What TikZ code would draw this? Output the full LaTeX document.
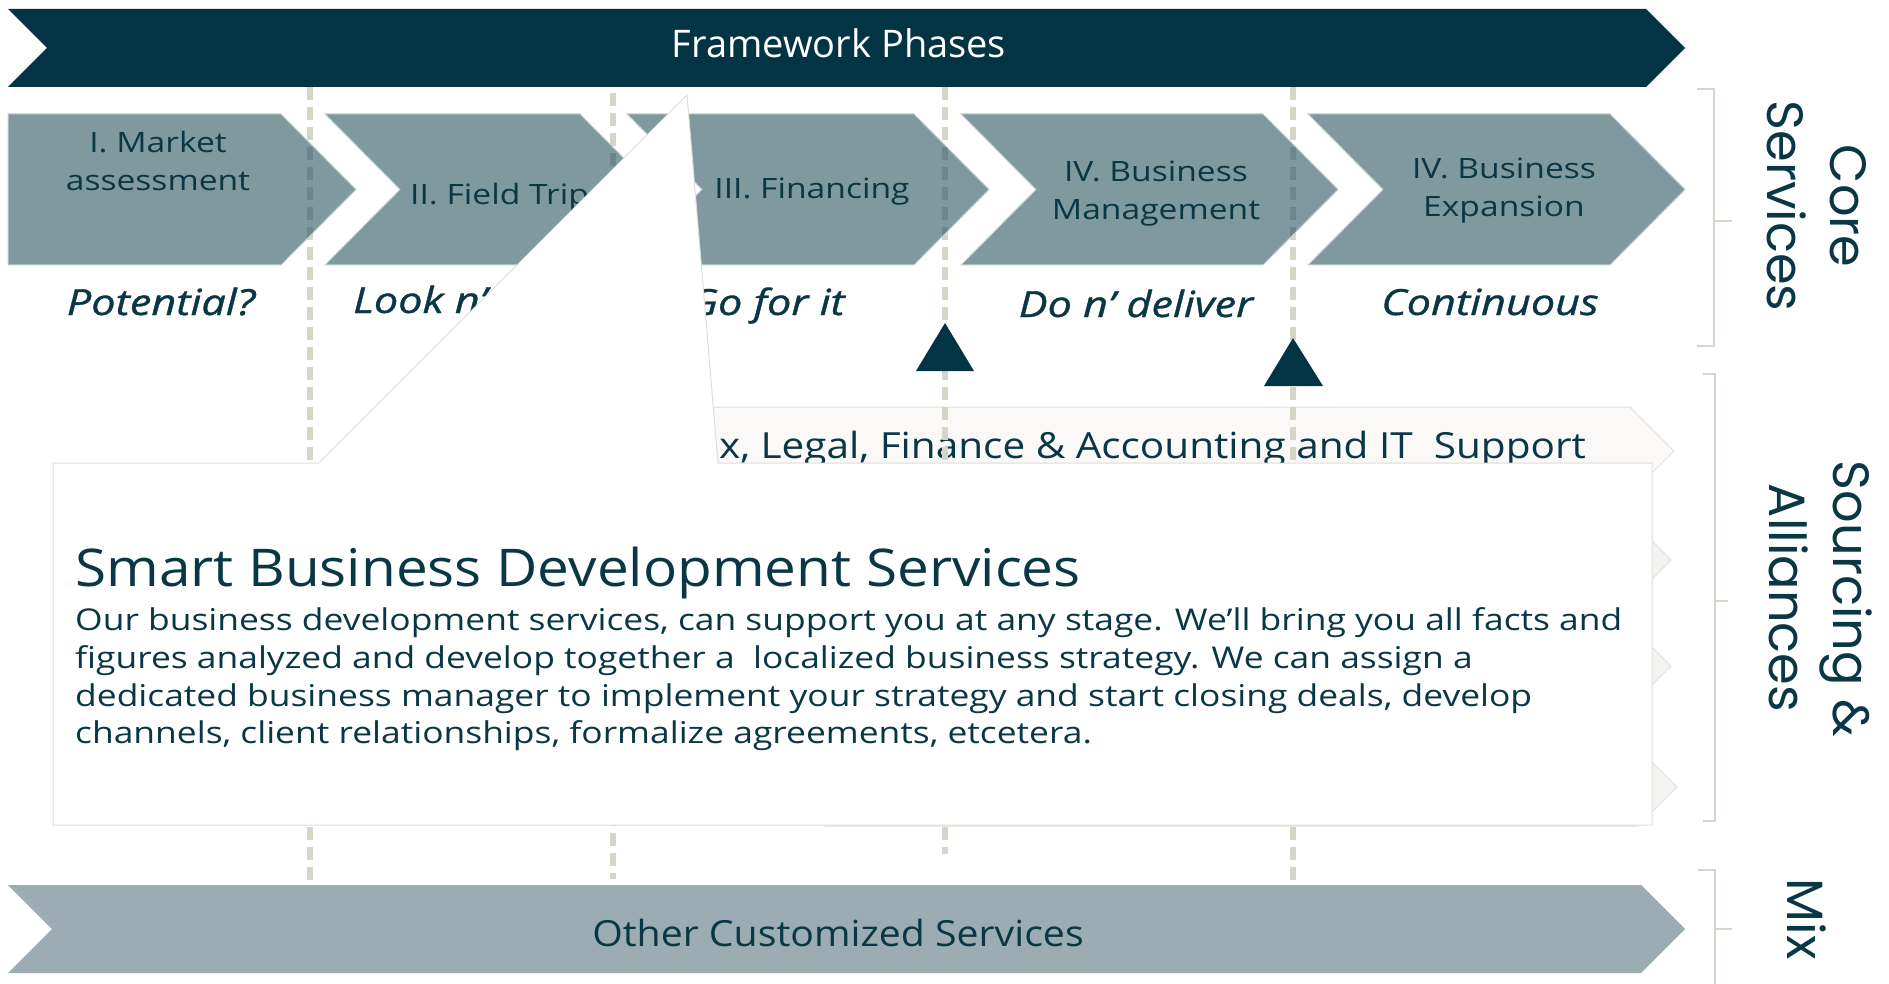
\documentclass[tikz,border=0pt]{standalone}
\usepackage{fontspec}
\setmainfont{Open Sans}
\newfontfamily\sidefont{Poppins}
\newfontfamily\fchev{Open Sans}[FakeStretch=1.2]
\newfontfamily\fital{Open Sans}[FakeStretch=1.2, FakeBold=1]
\newfontfamily\ftitle{Open Sans}[FakeStretch=1.09]
\newfontfamily\fbody{Open Sans}[FakeStretch=1.18]
\newfontfamily\ftax{Open Sans}[FakeStretch=1.125]
\newfontfamily\fother{Open Sans}[FakeStretch=1.09]
\definecolor{cdark}{RGB}{3,52,68}
\definecolor{ctext}{RGB}{10,55,70}
\definecolor{cchev}{RGB}{127,153,158}
\definecolor{cdash}{RGB}{214,214,200}
\definecolor{cdashd}{RGB}{108,134,139}
\definecolor{cbot}{RGB}{155,172,178}
\definecolor{ctax}{RGB}{251,248,248}
\definecolor{ctaxb}{RGB}{226,224,220}
\definecolor{crow}{RGB}{243,243,241}
\definecolor{cline}{RGB}{222,222,216}
\definecolor{cbr}{RGB}{214,214,202}
\begin{document}
\begin{tikzpicture}[x=1pt,y=-1pt,
  every node/.style={inner sep=0pt, text=ctext},
  chev/.style={fill=cchev, draw=cchev!45!white, line width=1pt},
  dashline/.style={line width=5.5pt, dash pattern=on 13pt off 7pt},
  chevlab/.style={anchor=base, font=\fchev\fontsize{28}{30}\selectfont},
  itlab/.style={anchor=base, font=\fital\itshape\fontsize{36}{40}\selectfont},
  body/.style={anchor=base west, font=\fbody\fontsize{30}{36}\selectfont},
  sidelab/.style={anchor=base, rotate=-90, font=\sidefont\fontsize{51}{60}\selectfont},
  bracket/.style={draw=cbr, line width=2pt}]
\useasboundingbox (0,0) rectangle (1889,984);
% top banner
\fill[cdark] (8,9) -- (1646,9) -- (1685,48) -- (1646,87) -- (8,87) -- (47,48) -- cycle;
\node[anchor=base, text=white, font=\fontsize{38}{40}\selectfont] (fw) at (839,58) {Framework Phases};
% bottom banner
\fill[cbot] (8,885) -- (1641,885) -- (1685,929) -- (1641,973) -- (8,973) -- (52,929) -- cycle;
\node[anchor=base, font=\fother\fontsize{36}{40}\selectfont] (other) at (838,946) {Other Customized Services};
% hidden sourcing rows
\filldraw[fill=crow, draw=ctaxb, line width=1pt] (825,516) -- (1627,516) -- (1671,560) -- (1627,604) -- (825,604) -- cycle;
\filldraw[fill=crow, draw=ctaxb, line width=1pt] (825,622) -- (1627,622) -- (1671,666) -- (1627,710) -- (825,710) -- cycle;
\filldraw[fill=crow, draw=ctaxb, line width=1pt] (825,748) -- (1638,748) -- (1677,787) -- (1638,826) -- (825,826) -- cycle;
% tax row
\filldraw[fill=ctax, draw=ctaxb, line width=1pt] (440,407) -- (1630,407) -- (1674,451) -- (1630,495) -- (440,495) -- cycle;
\node[anchor=base east, font=\ftax\fontsize{36}{40}\selectfont] (tax) at (1586,458) {Tax, Legal, Finance \& Accounting and IT~ Support};
% dashed lines
\draw[dashline, cdash] (310,87) -- (310,884);
\draw[dashline, cdash] (613,93) -- (613,879);
\draw[dashline, cdash] (945,87) -- (945,854);
\draw[dashline, cdash] (1293,87) -- (1293,884);
% chevrons
\filldraw[chev] (8,114) -- (281,114) -- (356,189.5) -- (281,265) -- (8,265) -- cycle;
\filldraw[chev] (325,114) -- (580,114) -- (655,189.5) -- (580,265) -- (325,265) -- (400,189.5) -- cycle;
\filldraw[chev] (627,114) -- (914,114) -- (989,189.5) -- (914,265) -- (627,265) -- (702,189.5) -- cycle;
\filldraw[chev] (961,114) -- (1263,114) -- (1338,189.5) -- (1263,265) -- (961,265) -- (1036,189.5) -- cycle;
\filldraw[chev] (1308,114) -- (1610,114) -- (1685,189.5) -- (1610,265) -- (1308,265) -- (1383,189.5) -- cycle;
\begin{scope}
\clip (8,115) -- (281,115) -- (355,189.5) -- (281,264) -- (8,264) -- cycle
      (325,115) -- (580,115) -- (654,189.5) -- (580,264) -- (325,264) -- (400,189.5) -- cycle
      (627,115) -- (914,115) -- (988,189.5) -- (914,264) -- (627,264) -- (702,189.5) -- cycle
      (961,115) -- (1263,115) -- (1337,189.5) -- (1263,264) -- (961,264) -- (1036,189.5) -- cycle;
\draw[dashline, cdashd] (310,87) -- (310,884);
\draw[dashline, cdashd] (613,93) -- (613,879);
\draw[dashline, cdashd] (945,87) -- (945,854);
\draw[dashline, cdashd] (1293,87) -- (1293,884);
\end{scope}
% chevron labels
\node[chevlab] (c1a) at (158,153) {I. Market};
\node[chevlab] (c1b) at (158,191) {assessment};
\node[chevlab, anchor=base west] (c2) at (410,205) {II. Field Trip};
\node[chevlab] (c3) at (812,199) {III. Financing};
\node[chevlab] (c4a) at (1156,182) {IV. Business};
\node[chevlab] (c4b) at (1156,220) {Management};
\node[chevlab] (c5a) at (1504,179) {IV. Business};
\node[chevlab] (c5b) at (1504,217) {Expansion};
% italic labels
\node[itlab] (i1) at (161,315) {Potential?};
\node[itlab, anchor=base west] (i2) at (353,313) {Look n’ see};
\node[itlab, anchor=base east] (i3) at (845,315) {Go for it};
\node[itlab] (i4) at (1136,317) {Do n’ deliver};
\node[itlab] (i5) at (1490,315) {Continuous};
% triangles
\fill[cdark] (945,323) -- (974,371) -- (916,371) -- cycle;
\fill[cdark] (1293,338) -- (1323,386) -- (1264,386) -- cycle;
% callout
\filldraw[fill=white, draw=cline, line width=1pt] (53,463) -- (319,463) -- (687,95) -- (718,463) -- (1652,463) -- (1652,825) -- (53,825) -- cycle;
\node[anchor=base west, font=\ftitle\fontsize{52}{56}\selectfont] (title) at (75,586) {Smart Business Development Services};
\node[body] (b1) at (75,630) {Our business development services, can support you at any stage. We’ll bring you all facts and};
\node[body] (b2) at (75,668) {figures analyzed and develop together a~ localized business strategy. We can assign a};
\node[body] (b3) at (75,706) {dedicated business manager to implement your strategy and start closing deals, develop};
\node[body] (b4) at (75,743) {channels, client relationships, formalize agreements, etcetera.};
% brackets
\draw[bracket] (1697,89) -- (1714,89) -- (1714,346) -- (1697,346);
\draw[bracket] (1714,221) -- (1732,221);
\draw[bracket] (1703,374) -- (1715,374) -- (1715,821) -- (1703,821);
\draw[bracket] (1715,601) -- (1728,601);
\draw[bracket] (1698,870) -- (1715,870) -- (1715,990);
\draw[bracket] (1715,929) -- (1732,929);
% side labels
\node[sidelab] (core) at (1830,206) {Core};
\node[sidelab] (serv) at (1767,206) {Services};
\node[sidelab] (sour) at (1833,599) {Sourcing \&};
\node[sidelab] (alli) at (1769,598) {Alliances};
\node[sidelab] (mix) at (1787,919) {Mix};
\end{tikzpicture}
\end{document}
